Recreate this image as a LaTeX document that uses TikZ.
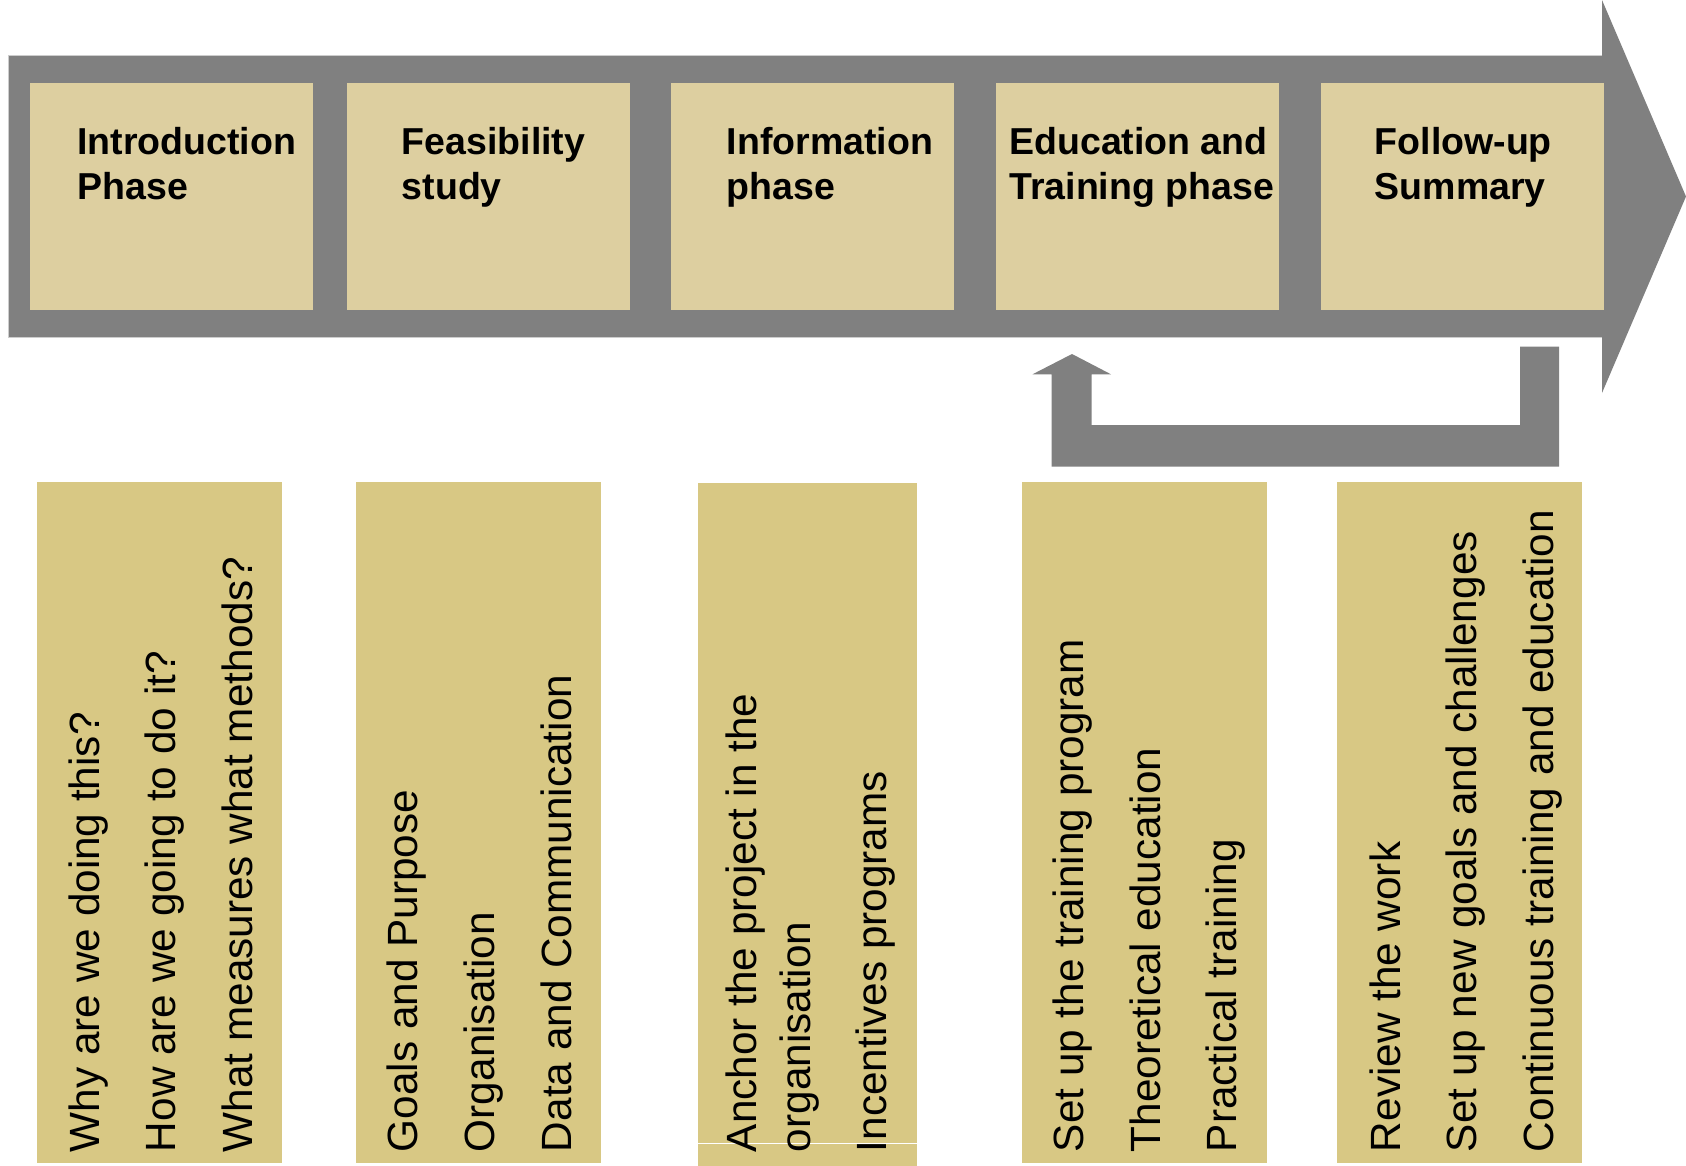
\documentclass[tikz,border=0pt]{standalone}
\usepackage{fontspec}
\setmainfont{Liberation Sans}
\definecolor{bargray}{RGB}{128,128,128}
\definecolor{edgegray}{RGB}{205,205,205}
\definecolor{headfill}{RGB}{221,207,160}
\definecolor{itemfill}{RGB}{216,200,132}
\begin{document}
\begin{tikzpicture}[x=0.5pt,y=-0.5pt,
  headbox/.style={fill=headfill,draw=none,inner sep=0,outer sep=0,anchor=north west,minimum width=141.5pt,minimum height=113.5pt},
  itembox/.style={fill=itemfill,draw=none,inner sep=0,outer sep=0,anchor=north west,minimum width=122.5pt,minimum height=340.5pt},
  headtext/.style={font=\fontsize{18.75pt}{22.5pt}\selectfont\bfseries,anchor=base west,inner sep=0,outer sep=0},
  itemtext/.style={font=\fontsize{21.15pt}{27pt}\selectfont,rotate=90,anchor=base west,inner sep=0,outer sep=0}]
\useasboundingbox (0,0) rectangle (1686,1166);
% main process arrow
\fill[bargray] (8.7,55.3) -- (1602,55.3) -- (1602,0) -- (1686,196.5) -- (1602,393) -- (1602,337.3) -- (8.7,337.3) -- cycle;
\draw[edgegray,line width=0.5pt] (1602,55.3) -- (8.7,55.3) -- (8.7,337.3) -- (1602,337.3);
% phase boxes
\node[headbox] (h1) at (30,83) {};
\node[headbox] (h2) at (347,83) {};
\node[headbox] (h3) at (671,83) {};
\node[headbox] (h4) at (996,83) {};
\node[headbox] (h5) at (1321,83) {};
\node[headtext] (h1a) at (77.5,154.3) {Introduction};
\node[headtext] (h1b) at (77.5,199.3) {Phase};
\node[headtext] (h2a) at (401.8,154.3) {Feasibility};
\node[headtext] (h2b) at (401.8,199.3) {study};
\node[headtext] (h3a) at (726.8,154.3) {Information};
\node[headtext] (h3b) at (726.8,199.3) {phase};
\node[headtext] (h4a) at (1009.3,154.3) {Education and};
\node[headtext] (h4b) at (1009.3,199.3) {Training phase};
\node[headtext] (h5a) at (1374.8,154.3) {Follow-up};
\node[headtext] (h5b) at (1374.8,199.3) {Summary};
% feedback arrow from Follow-up back to Education and Training
\fill[bargray] (1520,346.7) -- (1559,346.7) -- (1559,466.5) -- (1051.7,466.5) -- (1051.7,374.3) -- (1032.5,374.3) -- (1072,354) -- (1111,374.3) -- (1091.5,374.3) -- (1091.5,425) -- (1520,425) -- cycle;
% item boxes
\node[itembox] (b1) at (37,481.7) {};
\node[itembox] (b2) at (356,481.7) {};
\node[itembox,minimum width=109.35pt,minimum height=341.6pt] (b3) at (698,482.8) {};
\node[itembox] (b4) at (1021.8,481.7) {};
\node[itembox] (b5) at (1337,481.7) {};
\draw[white,line width=0.5pt] (b3.west |- 0,1143.3) -- (b3.east |- 0,1143.3);
% item texts
\node[itemtext] (t11) at (99,1152) {Why are we doing this?};
\node[itemtext] (t12) at (175,1152) {How are we going to do it?};
\node[itemtext] (t13) at (252,1152) {What measures what methods?};
\node[itemtext] (t21) at (417.3,1152) {Goals and Purpose};
\node[itemtext] (t22) at (494,1152) {Organisation};
\node[itemtext] (t23) at (571.5,1152) {Data and Communication};
\node[itemtext] (t31) at (756.7,1152) {Anchor the project in the};
\node[itemtext] (t32) at (810.7,1152) {organisation};
\node[itemtext] (t33) at (886,1152) {Incentives programs};
\node[itemtext] (t41) at (1083.4,1152) {Set up the training program};
\node[itemtext] (t42) at (1160,1152) {Theoretical education};
\node[itemtext] (t43) at (1236.6,1152) {Practical training};
\node[itemtext] (t51) at (1400,1152) {Review the work};
\node[itemtext] (t52) at (1476.5,1152) {Set up new goals and challenges};
\node[itemtext] (t53) at (1553,1152) {Continuous training and education};
\end{tikzpicture}
\end{document}
